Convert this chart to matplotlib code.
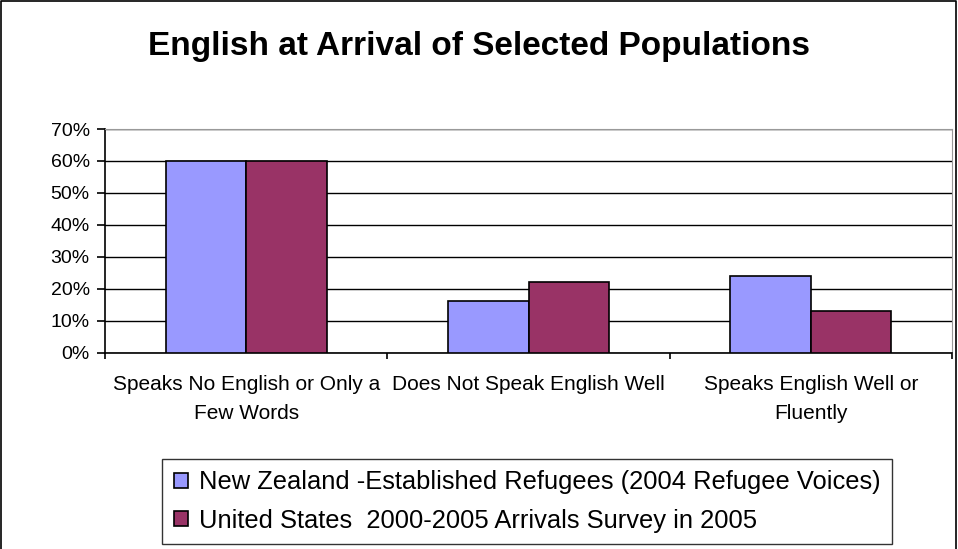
import matplotlib.pyplot as plt
import numpy as np
from matplotlib.lines import Line2D

categories = ['Speaks No English or Only a\nFew Words',
              'Does Not Speak English Well',
              'Speaks English Well or\nFluently']
nz_values = [60, 16, 24]
us_values = [60, 22, 13]
series_names = ['New Zealand -Established Refugees (2004 Refugee Voices)',
                'United States  2000-2005 Arrivals Survey in 2005']
y_ticks = [0, 10, 20, 30, 40, 50, 60, 70]

plt.rcParams['font.family'] = ['Liberation Sans', 'DejaVu Sans']

W, H = 958, 549
fig = plt.figure(figsize=(W / 100, H / 100), dpi=100)
ax = fig.add_axes([105 / W, 1 - 352.5 / H, (952 - 105) / W, (352.5 - 129) / H])

x = np.arange(len(categories))
width = 0.2857
ax.bar(x - width / 2, nz_values, width, color='#9999FF', edgecolor='black',
       linewidth=1.2, zorder=3, label=series_names[0])
ax.bar(x + width / 2, us_values, width, color='#993366', edgecolor='black',
       linewidth=1.2, zorder=3, label=series_names[1])

ax.set_xlim(-0.5, len(categories) - 0.5)
ax.set_ylim(0, 70)
ax.set_yticks(y_ticks)
ax.set_yticklabels([f'{v}%' for v in y_ticks], fontsize=14)
ax.yaxis.grid(True, color='black', linewidth=1, zorder=0)

# category labels in the middle, ticks between categories
ax.set_xticks(x)
ax.set_xticklabels(categories, fontsize=15, linespacing=1.7)
ax.tick_params(axis='x', length=0, pad=16)
ax.set_xticks(np.arange(len(categories) + 1) - 0.5, minor=True)
ax.tick_params(axis='x', which='minor', length=4.3, width=1.2, color='black')
ax.tick_params(axis='y', length=6, width=1.2, pad=5)

for side in ['top', 'right']:
    ax.spines[side].set_color('#999999')
for side in ['left', 'bottom']:
    ax.spines[side].set_color('black')
    ax.spines[side].set_linewidth(1.2)

fig.text(0.5, 1 - 46 / H, 'English at Arrival of Selected Populations',
         ha='center', va='center', fontsize=24, fontweight='bold')

leg = fig.legend(loc='upper left', bbox_to_anchor=(162 / W, 1 - 459 / H),
                 fontsize=18.4, frameon=True, fancybox=False, borderaxespad=0,
                 handlelength=0.55, handleheight=0.55, handletextpad=0.45,
                 labelspacing=0.55, borderpad=0.45)
leg.get_frame().set_edgecolor('black')
leg.get_frame().set_linewidth(1)

# outer chart border
fig.add_artist(Line2D([1 / W, 1 / W, 956 / W, 956 / W], [0, 1 - 1 / H, 1 - 1 / H, 0],
                      color='black', linewidth=1.2, transform=fig.transFigure))

fig.savefig('out.png', dpi=100)
